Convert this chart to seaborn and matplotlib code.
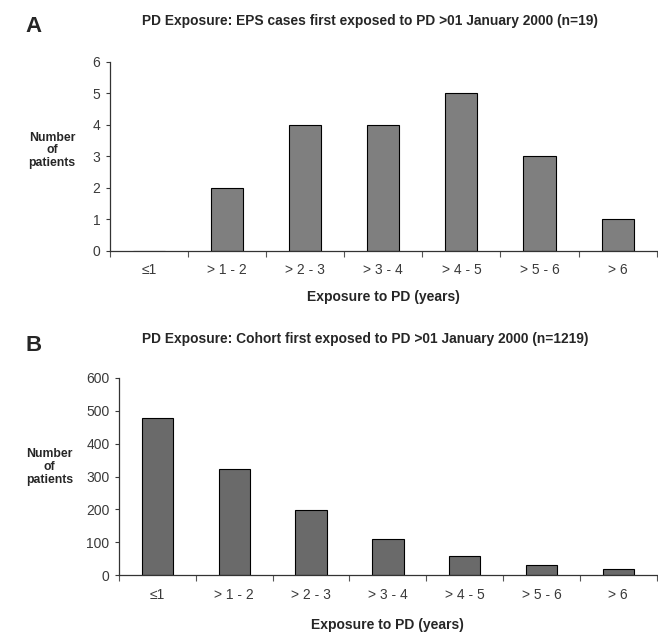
import numpy as np
import pandas as pd
import matplotlib
matplotlib.use("Agg")
import matplotlib.pyplot as plt
import seaborn as sns
from matplotlib.ticker import FixedLocator

# data
categories = ["\u22641", "> 1 - 2", "> 2 - 3", "> 3 - 4", "> 4 - 5", "> 5 - 6", "> 6"]
eps_cases = [0, 2, 4, 4, 5, 3, 1]
cohort = [477, 322, 198, 111, 58, 31, 20]

title_a = "PD Exposure: EPS cases first exposed to PD >01 January 2000 (n=19)"
title_b = "PD Exposure: Cohort first exposed to PD >01 January 2000 (n=1219)"

sns.set_theme(style="white")
plt.rcParams['font.family'] = ['Liberation Sans', 'DejaVu Sans']

fig = plt.figure(figsize=(6.58, 6.32), dpi=100)
ax_a = fig.add_axes([0.167, 0.603, 0.831, 0.299])
ax_b = fig.add_axes([0.181, 0.090, 0.817, 0.312])


def draw_panel(ax, values, color, ymax, ystep):
    df = pd.DataFrame({"cat": categories, "n": values})
    sns.barplot(data=df, x="cat", y="n", color=color, edgecolor="black",
                linewidth=0.8, width=0.41, saturation=1, ax=ax)
    ax.set_xlim(-0.5, len(categories) - 0.5)
    ax.set_ylim(0, ymax)
    ax.set_yticks(np.arange(0, ymax + 1, ystep))
    sns.despine(ax=ax)
    for s in ["left", "bottom"]:
        ax.spines[s].set_color("#333333")
        ax.spines[s].set_linewidth(0.9)
    ax.xaxis.set_minor_locator(FixedLocator(np.arange(-0.5, len(categories), 1.0)))
    ax.tick_params(axis="x", which="major", length=0, pad=9, labelsize=10, colors="#3a3a3a")
    ax.tick_params(axis="x", which="minor", length=4, width=0.8, color="#555555", bottom=True)
    ax.tick_params(axis="y", length=3, width=0.8, left=True, pad=4, labelsize=10, colors="#3a3a3a")
    ax.set_xlabel("Exposure to PD (years)", fontsize=10, fontweight="bold", labelpad=9)
    ax.set_ylabel("")


draw_panel(ax_a, eps_cases, "#7f7f7f", 6, 1)
draw_panel(ax_b, cohort, "#6a6a6a", 600, 100)
ax_a.xaxis.labelpad = 9
ax_b.xaxis.labelpad = 12

# y axis labels written horizontally, left of the axes
fig.text(0.079, 0.762, "Number\nof\npatients", ha="center", va="center",
         fontsize=8.8, fontweight="bold", linespacing=1.1)
fig.text(0.075, 0.261, "Number\nof\npatients", ha="center", va="center",
         fontsize=8.8, fontweight="bold", linespacing=1.1)

# panel titles and letters
fig.text(0.562, 0.967, title_a, ha="center", va="center", fontsize=9.9, fontweight="bold")
fig.text(0.555, 0.464, title_b, ha="center", va="center", fontsize=9.9, fontweight="bold")
fig.text(0.038, 0.958, "A", ha="left", va="center", fontsize=16, fontweight="bold")
fig.text(0.038, 0.454, "B", ha="left", va="center", fontsize=16, fontweight="bold")

fig.savefig("out.png", dpi=100)
